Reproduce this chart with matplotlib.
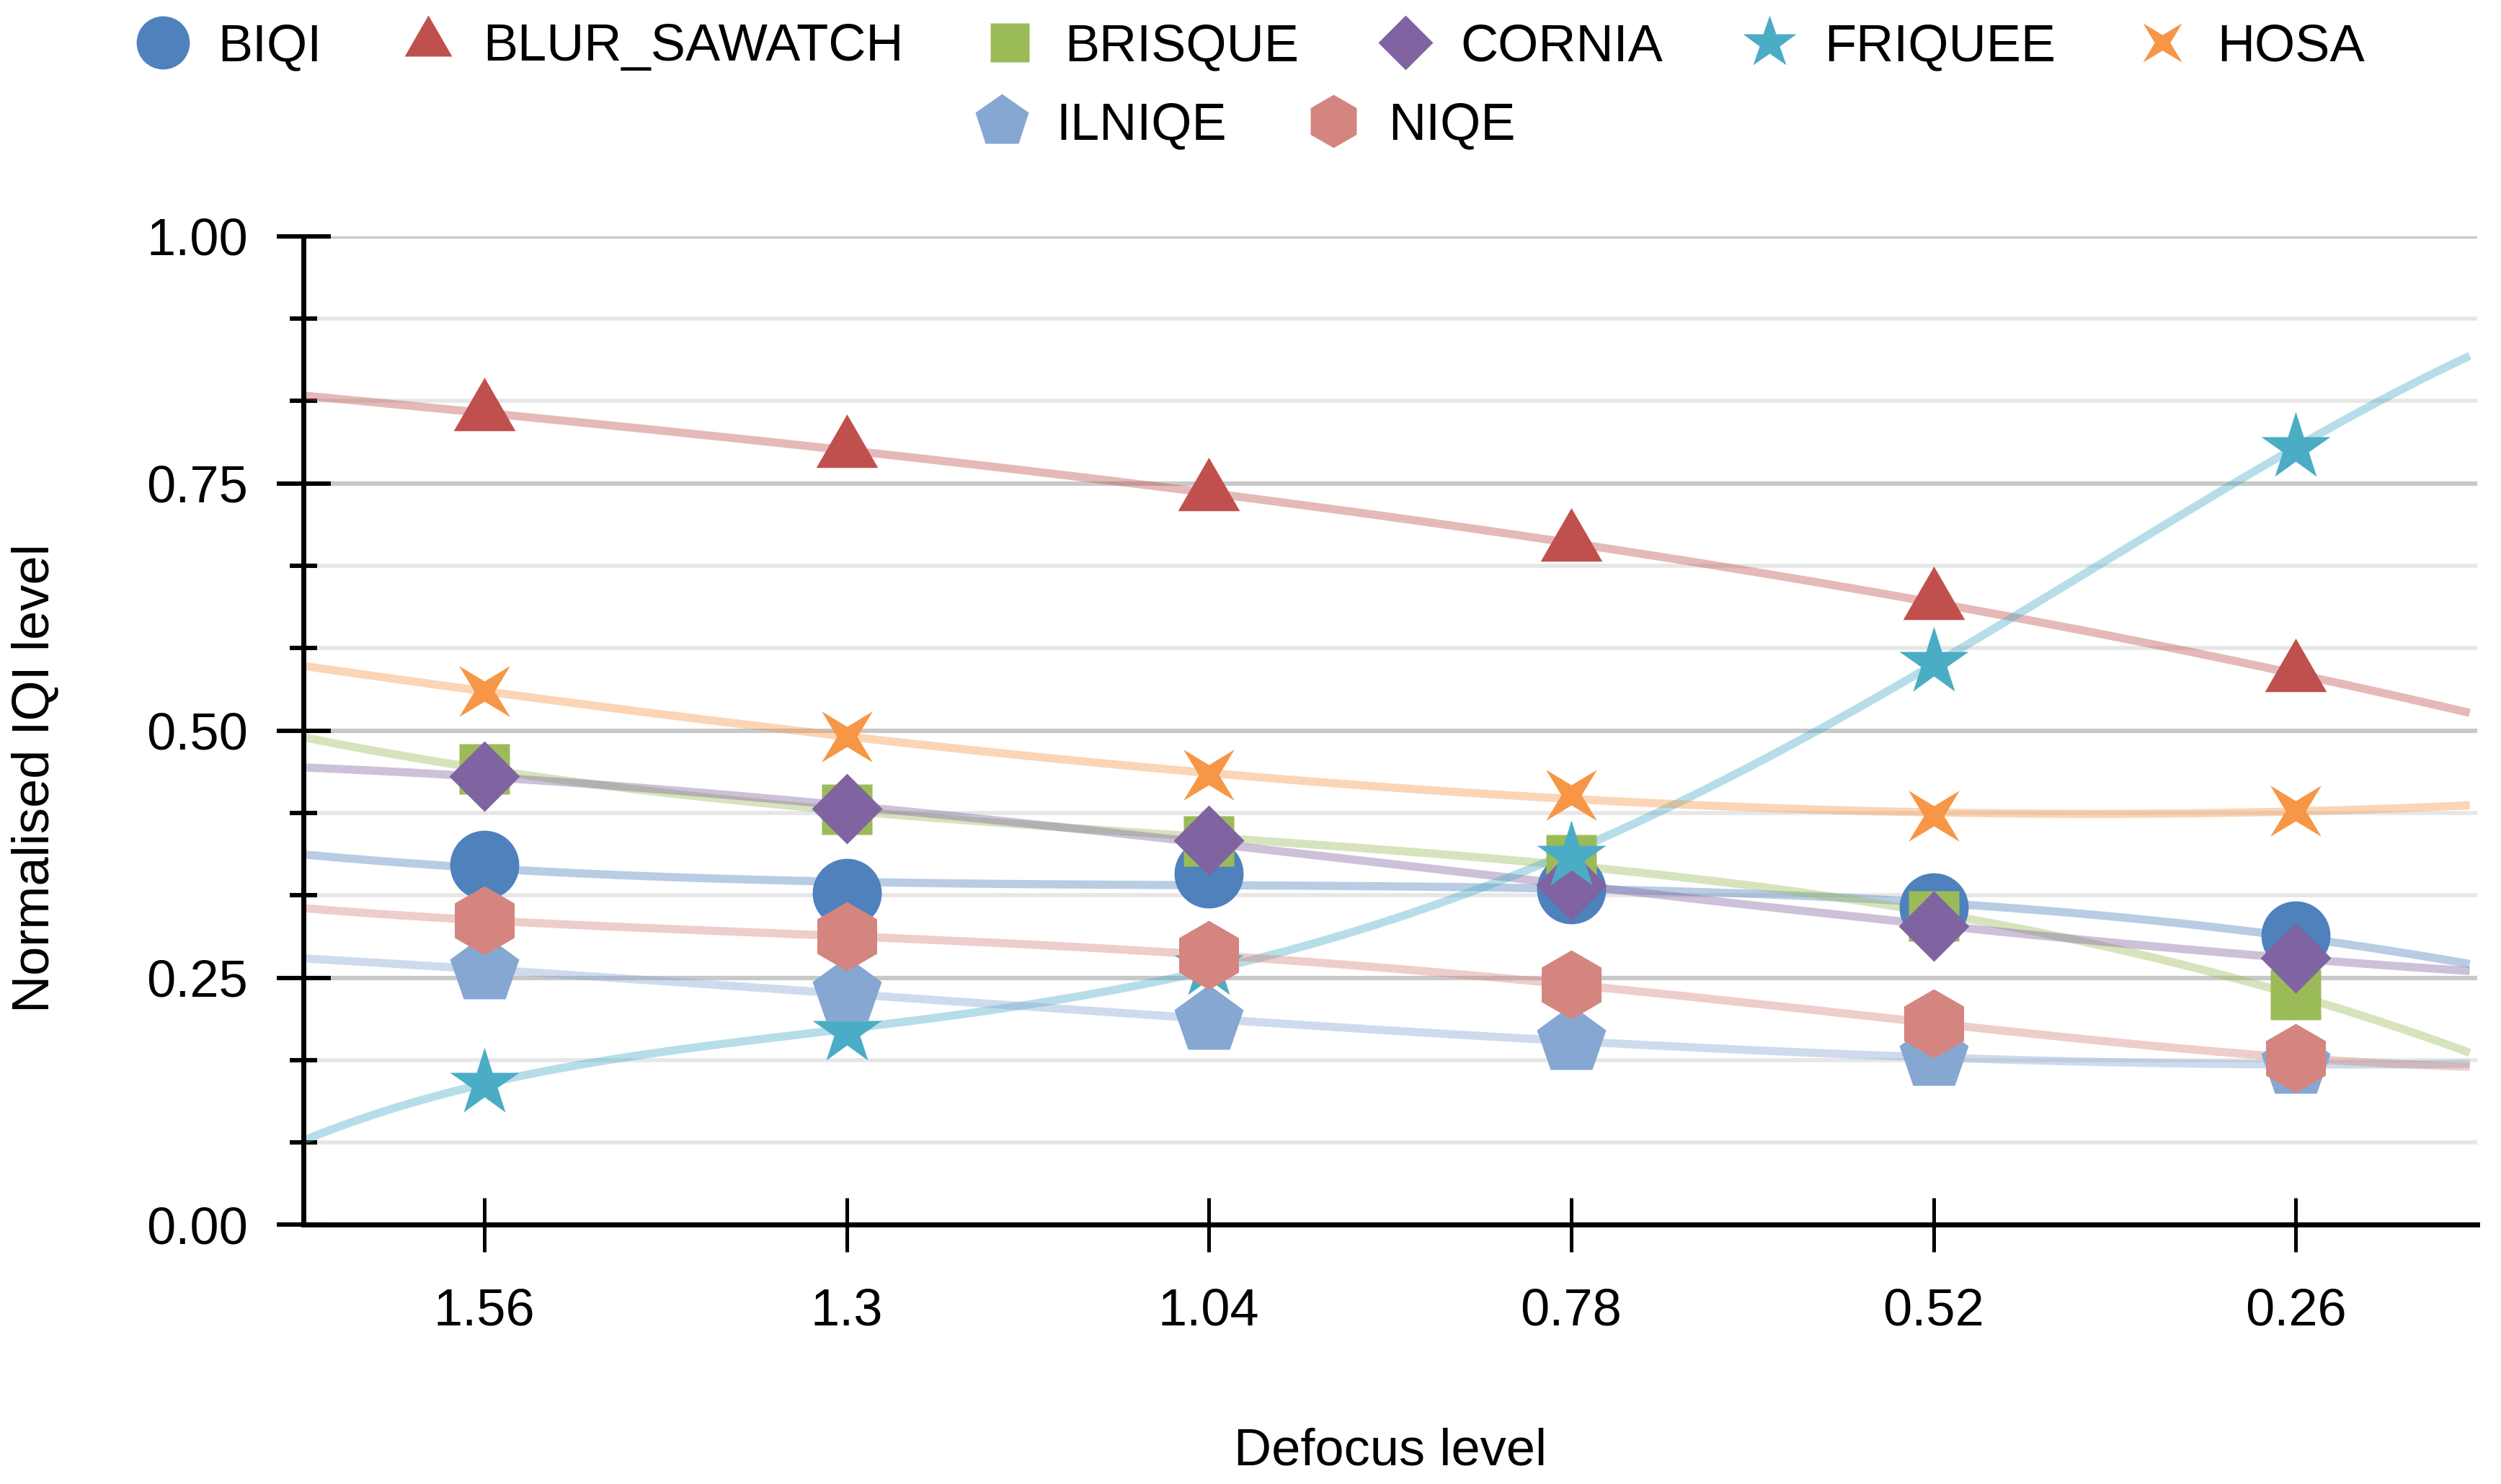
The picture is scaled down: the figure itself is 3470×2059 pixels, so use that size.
import numpy as np
import matplotlib
matplotlib.use("Agg")
import matplotlib.pyplot as plt
from matplotlib.path import Path
from matplotlib.transforms import Affine2D
from matplotlib.ticker import MultipleLocator, AutoMinorLocator, FormatStrFormatter, NullLocator
from matplotlib.lines import Line2D

plt.rcParams["font.family"] = ["Liberation Sans", "DejaVu Sans"]

# data
defocus = ["1.56", "1.3", "1.04", "0.78", "0.52", "0.26"]
methods = ["BIQI", "BLUR_SAWATCH", "BRISQUE", "CORNIA", "FRIQUEE", "HOSA", "ILNIQE", "NIQE"]

biqi = [0.364, 0.336, 0.355, 0.339, 0.321, 0.293]
blur_sawatch = [0.821, 0.784, 0.740, 0.689, 0.630, 0.557]
brisque = [0.461, 0.420, 0.388, 0.369, 0.312, 0.233]
cornia = [0.454, 0.421, 0.389, 0.344, 0.302, 0.270]
friquee = [0.143, 0.196, 0.262, 0.373, 0.569, 0.786]
hosa = [0.540, 0.494, 0.455, 0.435, 0.414, 0.419]
ilniqe = [0.258, 0.235, 0.207, 0.186, 0.170, 0.162]
niqe = [0.308, 0.292, 0.273, 0.243, 0.204, 0.169]

values = [biqi, blur_sawatch, brisque, cornia, friquee, hosa, ilniqe, niqe]

# polynomial degree of each trend line
fit_degree = [3, 3, 3, 3, 4, 3, 3, 4]

colors = ["#4F81BD", "#C0504D", "#9BBB59", "#8064A2",
          "#4BACC6", "#F79646", "#86A7D2", "#D4857F"]

# thin four pointed star, turned into an X
x_star = Path.unit_regular_star(4, innerCircle=0.28).transformed(Affine2D().rotate_deg(45))
markers = ["o", (3, 0, 0), "s", "D", "*", x_star, "p", "h"]
sizes = [34.5, 35.6, 25.2, 25.0, 36.0, 25.5, 36.0, 34.5]

fig = plt.figure(figsize=(17.35, 10.295), dpi=200)
ax = fig.add_axes([0.1212, 0.1746, 0.8692, 0.6663])

xs = np.arange(len(defocus))
xfit = np.linspace(-0.5, 5.48, 120)

# fitted trend lines
for vals, c, d in zip(values, colors, fit_degree):
    coef = np.polyfit(xs, vals, d)
    ax.plot(xfit, np.polyval(coef, xfit), color=c, alpha=0.4, lw=4.1,
            solid_capstyle="butt", zorder=2)

handles = []
for name, vals, c, m, s in zip(methods, values, colors, markers, sizes):
    ax.plot(xs, vals, ls="none", marker=m, ms=s, color=c, mec="none", zorder=3)
    handles.append(Line2D([], [], ls="none", marker=m, ms=s, color=c, mec="none"))

ax.set_xlim(-0.5, 5.5)
ax.set_ylim(0, 1)
ax.set_xticks(xs)
ax.set_xticklabels(defocus)
ax.xaxis.set_minor_locator(NullLocator())
ax.yaxis.set_major_locator(MultipleLocator(0.25))
ax.yaxis.set_minor_locator(AutoMinorLocator(3))
ax.yaxis.set_major_formatter(FormatStrFormatter("%.2f"))

ax.set_axisbelow(True)
ax.yaxis.grid(True, which="major", color="#c8c8c8", lw=2.2)
ax.yaxis.grid(True, which="minor", color="#e6e6e6", lw=2.0)
ax.xaxis.grid(False)

for side in ["top", "right"]:
    ax.spines[side].set_visible(False)
for side in ["left", "bottom"]:
    ax.spines[side].set_linewidth(2.5)
    ax.spines[side].set_color("black")

ax.tick_params(axis="y", which="major", direction="inout", length=27, width=2.2,
               pad=14, labelsize=26)
ax.tick_params(axis="y", which="minor", direction="inout", length=14, width=2.2)
ax.tick_params(axis="x", which="major", direction="inout", length=27, width=1.8,
               pad=18, labelsize=26)

ax.set_ylabel("Normalised IQI level", fontsize=26)
ax.yaxis.set_label_coords(-0.112, 0.452)
ax.set_xlabel("Defocus level", fontsize=26)
ax.xaxis.set_label_coords(0.5, -0.205)

leg_kw = dict(loc="center", frameon=False, fontsize=26, markerscale=0.77,
              handlelength=1.2, handletextpad=0.45, columnspacing=1.45)
fig.legend(handles[:6], methods[:6], bbox_to_anchor=(0.499, 0.968), ncol=6, **leg_kw)
fig.legend(handles[6:], methods[6:], bbox_to_anchor=(0.497, 0.915), ncol=2, **leg_kw)

fig.savefig("out.png", dpi=200)
